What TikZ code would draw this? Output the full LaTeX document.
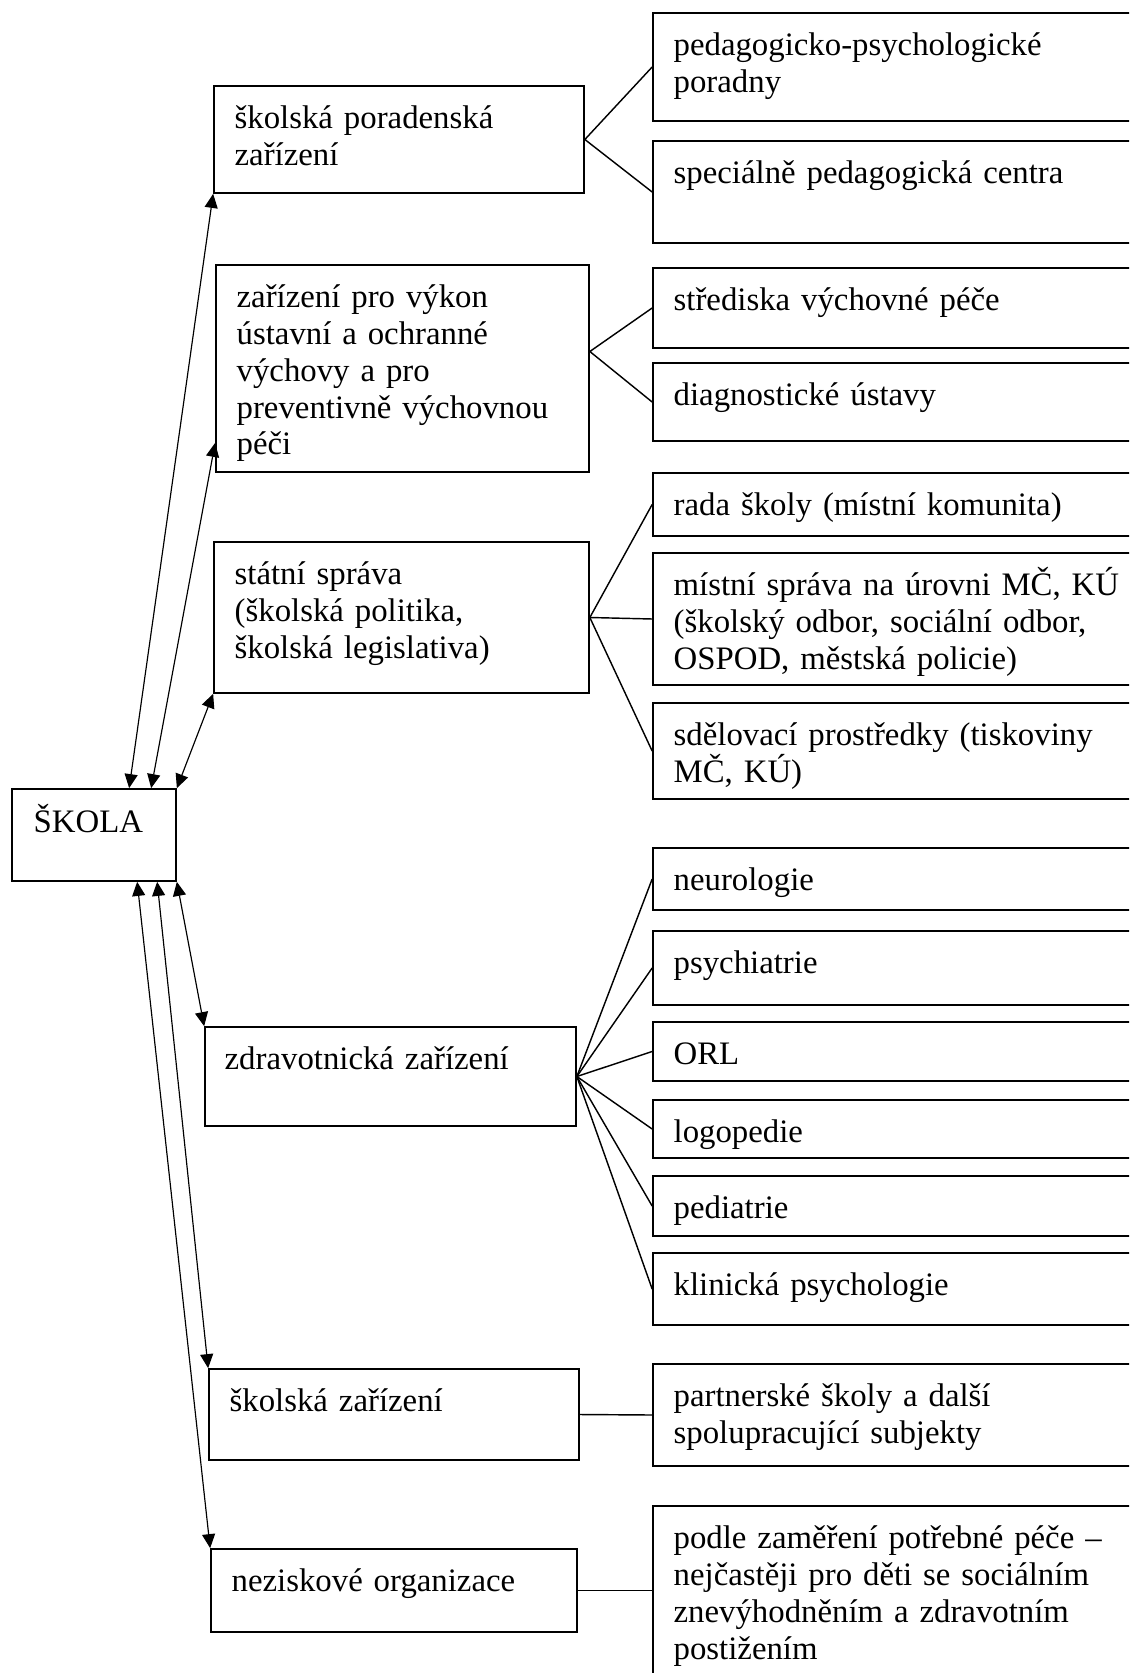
\documentclass[tikz,border=0pt]{standalone}
\usepackage{fontspec}
\setmainfont{Liberation Serif}
\usepackage{tikz}
\usetikzlibrary{arrows.meta}
\usetikzlibrary{fit}
\tikzset{
    box/.style={draw=black, line width=0.65pt, inner sep=0pt},
    txt/.style={anchor=base west, align=left, inner sep=0pt, text width=7cm,
        font=\fontsize{12.6}{14.2}\selectfont},
    link/.style={{Triangle[length=5.4pt,width=5pt]}-{Triangle[length=5.4pt,width=5pt]}, line width=0.45pt},
    fan/.style={line width=0.55pt},
}

\begin{document}
\begin{tikzpicture}[x=0.0135cm, y=-0.0135cm]
    \clip (0,0) rectangle (1129,1673);

    \node[box, fit={(12,789) (176,881)}] (skola) {};
    \node[txt] (skola-t) at ([shift={(22,44)}]skola.north west) {ŠKOLA};

    \node[box, fit={(214,86) (584,193)}] (spz) {};
    \node[txt] (spz-t) at ([shift={(21,43)}]spz.north west) {školská poradenská\\zařízení};
    \node[box, fit={(216,265) (589,472)}] (zuov) {};
    \node[txt] (zuov-t) at ([shift={(21,43)}]zuov.north west) {zařízení pro výkon\\ústavní a ochranné\\výchovy a pro\\preventivně výchovnou\\péči};
    \node[box, fit={(214,542) (589,693)}] (ss) {};
    \node[txt] (ss-t) at ([shift={(21,43)}]ss.north west) {státní správa\\(školská politika,\\školská legislativa)};
    \node[box, fit={(205,1027) (576,1126)}] (zz) {};
    \node[txt] (zz-t) at ([shift={(20,43)}]zz.north west) {zdravotnická zařízení};
    \node[box, fit={(209,1369) (579,1460)}] (sz) {};
    \node[txt] (sz-t) at ([shift={(21,43)}]sz.north west) {školská zařízení};
    \node[box, fit={(211,1549) (577,1632)}] (no) {};
    \node[txt] (no-t) at ([shift={(21,43)}]no.north west) {neziskové organizace};

    \node[box, fit={(653,13) (1140,121)}] (ppp) {};
    \node[txt] (ppp-t) at ([shift={(21,43)}]ppp.north west) {pedagogicko-psychologické\\poradny};
    \node[box, fit={(653,141) (1140,243)}] (spc) {};
    \node[txt] (spc-t) at ([shift={(21,43)}]spc.north west) {speciálně pedagogická centra};
    \node[box, fit={(653,268) (1140,348)}] (svp) {};
    \node[txt] (svp-t) at ([shift={(21,43)}]svp.north west) {střediska výchovné péče};
    \node[box, fit={(653,363) (1140,441)}] (du) {};
    \node[txt] (du-t) at ([shift={(21,43)}]du.north west) {diagnostické ústavy};
    \node[box, fit={(653,473) (1140,536)}] (rs) {};
    \node[txt] (rs-t) at ([shift={(21,43)}]rs.north west) {rada školy (místní komunita)};
    \node[box, fit={(653,553) (1140,685)}] (ms) {};
    \node[txt] (ms-t) at ([shift={(21,43)}]ms.north west) {místní správa na úrovni MČ, KÚ\\(školský odbor, sociální odbor,\\OSPOD, městská policie)};
    \node[box, fit={(653,703) (1140,799)}] (sp) {};
    \node[txt] (sp-t) at ([shift={(21,43)}]sp.north west) {sdělovací prostředky (tiskoviny\\MČ, KÚ)};
    \node[box, fit={(653,848) (1140,910)}] (neu) {};
    \node[txt] (neu-t) at ([shift={(21,43)}]neu.north west) {neurologie};
    \node[box, fit={(653,931) (1140,1005)}] (psy) {};
    \node[txt] (psy-t) at ([shift={(21,43)}]psy.north west) {psychiatrie};
    \node[box, fit={(653,1022) (1140,1081)}] (orl) {};
    \node[txt] (orl-t) at ([shift={(21,43)}]orl.north west) {ORL};
    \node[box, fit={(653,1100) (1140,1158)}] (log) {};
    \node[txt] (log-t) at ([shift={(21,43)}]log.north west) {logopedie};
    \node[box, fit={(653,1176) (1140,1236)}] (ped) {};
    \node[txt] (ped-t) at ([shift={(21,43)}]ped.north west) {pediatrie};
    \node[box, fit={(653,1253) (1140,1325)}] (kp) {};
    \node[txt] (kp-t) at ([shift={(21,43)}]kp.north west) {klinická psychologie};
    \node[box, fit={(653,1364) (1140,1466)}] (ps) {};
    \node[txt] (ps-t) at ([shift={(21,43)}]ps.north west) {partnerské školy a další\\spolupracující subjekty};
    \node[box, fit={(653,1506) (1140,1700)}] (pz) {};
    \node[txt] (pz-t) at ([shift={(21,43)}]pz.north west) {podle zaměření potřebné péče –\\nejčastěji pro děti se sociálním\\znevýhodněním a zdravotním\\postižením};

    \draw[link] ([shift={(118,0)}]skola.north west) -- (spz.south west);
    \draw[link] ([shift={(140,0)}]skola.north west) -- ([shift={(0,-30)}]zuov.south west);
    \draw[link] (skola.north east) -- (ss.south west);
    \draw[link] (skola.south east) -- (zz.north west);
    \draw[link] ([shift={(146,0)}]skola.south west) -- (sz.north west);
    \draw[link] ([shift={(126,0)}]skola.south west) -- (no.north west);

    \coordinate (zuov-x) at ([shift={(0,-17)}]zuov.east);
    \draw[fan] (ppp.west) -- (spz.east) -- (spc.west);
    \draw[fan] (svp.west) -- (zuov-x) -- (du.west);
    \draw[fan] (rs.west) -- (ss.east) -- (sp.west);
    \draw[fan] (ss.east) -- (ms.west);
    \draw[fan] (zz.east) -- (neu.west);
    \draw[fan] (zz.east) -- (psy.west);
    \draw[fan] (zz.east) -- (orl.west);
    \draw[fan] (zz.east) -- (log.west);
    \draw[fan] (zz.east) -- (ped.west);
    \draw[fan] (zz.east) -- (kp.west);
    \draw[fan] (sz.east) -- (ps.west);
    \draw[fan] (no.east) -- (pz.west |- no.east);
\end{tikzpicture}
\end{document}
